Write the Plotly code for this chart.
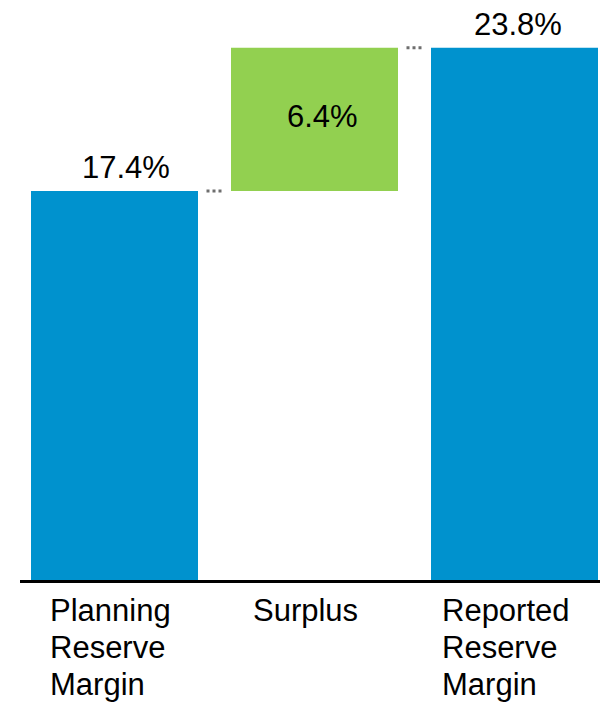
import plotly.graph_objects as go

# ---- data ----
categories = ["Planning Reserve Margin", "Surplus", "Reported Reserve Margin"]
label_lines = [["Planning", "Reserve", "Margin"], ["Surplus"], ["Reported", "Reserve", "Margin"]]
values = [17.4, 6.4, 23.8]
measures = ["absolute", "relative", "total"]
value_labels = ["17.4%", "6.4%", "23.8%"]

# ---- style ----
BLUE = "#0092CE"
GREEN = "#92D050"
FONT = "Liberation Sans, Arial, sans-serif"
BAR_W = 0.835
label_xshift = [17, 20, 9]
value_xshift = [11, 8, 3]
LINE_GAP = 37

# compute waterfall bases / heights
bases, heights, colors, tops = [], [], [], []
running = 0.0
for v, m in zip(values, measures):
    if m == "absolute":
        bases.append(0); heights.append(v); running = v; colors.append(BLUE)
    elif m == "relative":
        bases.append(running); heights.append(v); running += v; colors.append(GREEN)
    else:
        bases.append(0); heights.append(running if abs(running - v) < 0.05 else v); colors.append(BLUE)
    tops.append(bases[-1] + heights[-1])

xs = list(range(len(categories)))

fig = go.Figure()
fig.add_trace(go.Bar(
    x=xs, y=heights, base=bases, width=BAR_W,
    marker=dict(color=colors, line=dict(width=0)),
    showlegend=False, hoverinfo="skip",
))

# connectors
for i in range(len(xs) - 1):
    level = tops[i] if measures[i + 1] != "total" else tops[i + 1]
    fig.add_trace(go.Scatter(
        x=[xs[i] + 0.5 - 0.04, xs[i] + 0.5 + 0.04], y=[level, level],
        mode="lines", line=dict(color="#6e6e6e", width=3, dash="dot"),
        showlegend=False, hoverinfo="skip",
    ))

# value labels
for i, m in enumerate(measures):
    if m == "relative":
        fig.add_annotation(
            x=xs[i], xref="x", xanchor="center", xshift=value_xshift[i],
            y=bases[i] + heights[i] / 2, yref="y", yanchor="middle", yshift=3,
            text=value_labels[i], showarrow=False,
            font=dict(family=FONT, size=31, color="black"),
        )
    else:
        fig.add_annotation(
            x=xs[i], xref="x", xanchor="center", xshift=value_xshift[i],
            y=tops[i], yref="y", yanchor="bottom", yshift=4,
            text=value_labels[i], showarrow=False,
            font=dict(family=FONT, size=31, color="black"),
        )

# category labels (left-aligned lines)
for i, lines in enumerate(label_lines):
    for k, line in enumerate(lines):
        fig.add_annotation(
            x=xs[i] - BAR_W / 2, xref="x", xanchor="left", xshift=label_xshift[i],
            y=0, yref="paper", yanchor="top", yshift=-11 - LINE_GAP * k,
            text=line, showarrow=False,
            font=dict(family=FONT, size=31, color="black"),
        )

fig.update_layout(
    width=600, height=703,
    margin=dict(l=20, r=0, t=21, b=123),
    plot_bgcolor="white", paper_bgcolor="white",
    xaxis=dict(range=[-0.4725, 2.4275], showticklabels=False, showgrid=False,
               zeroline=False, showline=True, linecolor="black", linewidth=3, ticks=""),
    yaxis=dict(range=[0, 25], visible=False, showgrid=False, zeroline=False),
)

fig.write_html("out.html")
